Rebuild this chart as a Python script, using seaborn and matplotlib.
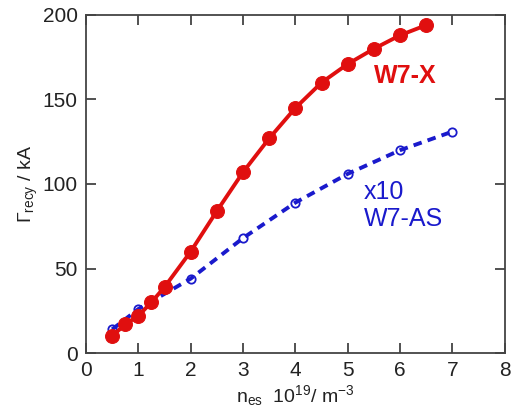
import matplotlib
matplotlib.use("Agg")
import matplotlib.pyplot as plt
import seaborn as sns
import pandas as pd

# Recycling current vs. edge density
w7x_density = [0.5, 0.75, 1.0, 1.25, 1.5, 2.0, 2.5, 3.0, 3.5, 4.0, 4.5, 5.0, 5.5, 6.0, 6.5]
w7x_current = [10, 17, 22, 30, 39, 60, 84, 107, 127, 145, 160, 171, 180, 188, 194]

w7as_density = [0.5, 1.0, 2.0, 3.0, 4.0, 5.0, 6.0, 7.0]
w7as_current = [14, 26, 44, 68, 89, 106, 120, 131]

x_ticks = [0, 1, 2, 3, 4, 5, 6, 7, 8]
y_ticks = [0, 50, 100, 150, 200]

sns.set_theme(style="white")
plt.rcParams["font.family"] = ["Liberation Sans", "DejaVu Sans"]
plt.rcParams["mathtext.fontset"] = "custom"
plt.rcParams["mathtext.rm"] = "Liberation Sans"
plt.rcParams["mathtext.it"] = "Liberation Sans"

df_x = pd.DataFrame({"n": w7x_density, "I": w7x_current})
df_as = pd.DataFrame({"n": w7as_density, "I": w7as_current})

fig = plt.figure(figsize=(5.13, 4.16), dpi=100)
ax = fig.add_axes([0.1676, 0.1514, 0.8164, 0.8126])

sns.lineplot(data=df_as, x="n", y="I", ax=ax, color="#1a1acc", linewidth=2.8,
             linestyle=(0, (2.2, 1.6)), marker="o", markersize=6,
             markerfacecolor="none", markeredgecolor="#1a1acc", markeredgewidth=1.3)
sns.lineplot(data=df_x, x="n", y="I", ax=ax, color="#e00f0f", linewidth=2.8,
             marker="o", markersize=10, markeredgecolor="#e00f0f")

ax.set_xlim(0, 8)
ax.set_ylim(0, 200)
ax.set_xticks(x_ticks)
ax.set_yticks(y_ticks)
ax.set_xticklabels([str(t) for t in x_ticks])
ax.set_yticklabels([str(t) for t in y_ticks])
ax.tick_params(axis="both", which="both", direction="in", length=7, width=1.2,
               colors="#333333", labelsize=15, labelcolor="#222222",
               top=True, right=True, bottom=True, left=True, pad=6)
for side in ax.spines.values():
    side.set_color("#444444")
    side.set_linewidth(1.3)

ax.set_xlabel(r"n$_{\mathrm{es}}$  10$^{19}$/ m$^{-3}$", fontsize=14, color="#222222", labelpad=2)
ax.set_ylabel(r"$\Gamma_{\mathrm{recy}}$ / kA", fontsize=14, color="#222222", labelpad=2)

ax.text(5.5, 164, "W7-X", color="#e00f0f", fontsize=18, fontweight="bold", va="center", ha="left")
ax.text(5.3, 95, "x10", color="#1a1acc", fontsize=18, va="center", ha="left")
ax.text(5.3, 79, "W7-AS", color="#1a1acc", fontsize=18, va="center", ha="left")

fig.savefig("out.png", dpi=100)
